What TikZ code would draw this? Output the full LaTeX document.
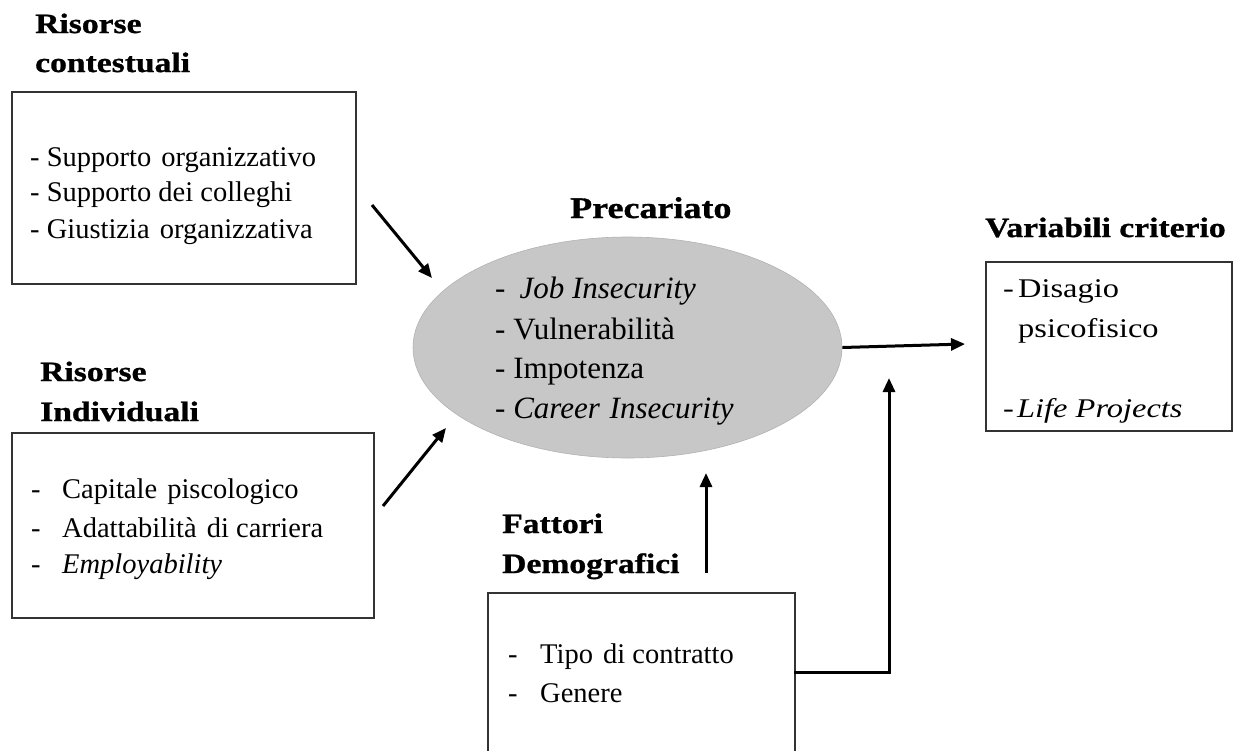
\documentclass[tikz,border=0pt]{standalone}
\usepackage{fontspec}
\setmainfont{Liberation Serif}
\newfontfamily\headfont[FakeStretch=1.2,FakeBold=1]{Liberation Serif}
\newfontfamily\widefont[FakeStretch=1.2]{Liberation Serif}
\usetikzlibrary{arrows.meta,shapes.geometric}

\begin{document}
\begin{tikzpicture}[x=1pt,y=-1pt,
  frame/.style={draw=black!80, line width=1.5pt, inner sep=0pt, anchor=north west},
  heading/.style={anchor=base west, inner sep=0pt, font=\headfont\bfseries\fontsize{28}{34}\selectfont},
  item/.style={anchor=base west, inner sep=0pt, font=\fontsize{28.5}{34}\selectfont},
  wideitem/.style={anchor=base west, inner sep=0pt, font=\widefont\fontsize{27}{34}\selectfont},
  bigitem/.style={anchor=base west, inner sep=0pt, font=\fontsize{31}{37}\selectfont},
  flow/.style={line width=3pt, -{Triangle[length=14pt,width=12pt]}}]

\useasboundingbox (0,0) rectangle (1233,750);

% boxes
\node[frame, minimum width=344pt, minimum height=192pt] (ctx) at (11,91) {};
\node[frame, minimum width=362pt, minimum height=185pt] (ind) at (11,432) {};
\node[frame, minimum width=246pt, minimum height=169pt] (crit) at (985,261) {};
\begin{scope}
  \clip (0,0) rectangle (1233,750);
  \node[frame, minimum width=307pt, minimum height=200pt] (demo) at (487,592) {};
\end{scope}

% central construct
\node[ellipse, draw=black!30, line width=0.6pt, fill=black!22,
      minimum width=429pt, minimum height=221pt, inner sep=0pt] (prec) at (627.5,347.5) {};

% headings
\node[heading] (h1a) at (35,33) {Risorse};
\node[heading] (h1b) at (35,72) {contestuali};
\node[heading] (h2a) at (40,381) {Risorse};
\node[heading] (h2b) at (40,421) {Individuali};
\node[heading, font=\headfont\bfseries\fontsize{30}{36}\selectfont] (h3) at (570,218) {Precariato};
\node[heading] (h4) at (985,237) {Variabili criterio};
\node[heading] (h5a) at (502,533) {Fattori};
\node[heading] (h5b) at (502,573) {Demografici};

% contextual resources
\node[item] (c1) at (30,166) {- Supporto\hspace{3pt} organizzativo};
\node[item] (c2) at (30,201) {- Supporto dei colleghi};
\node[item] (c3) at (30,238) {- Giustizia\hspace{3pt} organizzativa};

% individual resources
\node[item] (i1) at (31,498) {\makebox[31pt][l]{-}Capitale\hspace{3pt} piscologico};
\node[item] (i2) at (31,537) {\makebox[31pt][l]{-}Adattabilità\hspace{3pt} di carriera};
\node[item] (i3) at (31,573) {\makebox[31pt][l]{-}\textit{Employability}};

% precariousness dimensions
\node[bigitem] (p1) at (495,298) {-\hspace{14pt}\textit{Job Insecurity}};
\node[bigitem] (p2) at (495,339) {- Vulnerabilità};
\node[bigitem] (p3) at (495,378) {- Impotenza};
\node[bigitem] (p4) at (495,418) {- \textit{Career\hspace{2pt} Insecurity}};

% outcomes
\node[wideitem] (o1) at (1003,297) {\makebox[15pt][l]{-}Disagio};
\node[wideitem] (o2) at (1018,337) {psicofisico};
\node[wideitem] (o3) at (1003,417) {\makebox[14pt][l]{-}\textit{Life Projects}};

% demographic factors
\node[item] (d1) at (508,663) {\makebox[32pt][l]{-}Tipo\hspace{3pt} di contratto};
\node[item] (d2) at (508,702) {\makebox[32pt][l]{-}Genere};

% connectors
\coordinate (a1s) at (372,205);
\coordinate (a1e) at (432,278);
\coordinate (a2s) at (383,506);
\coordinate (a2e) at (446,428);
\coordinate (a3e) at (965,344);
\coordinate (a4s) at (706,573);
\coordinate (a4e) at (706,473);
\coordinate (a5s) at (794,672);
\coordinate (a5e) at (889,378);

\draw[flow] (a1s) -- (a1e);
\draw[flow] (a2s) -- (a2e);
\draw[flow] (prec.east) -- (a3e);
\draw[flow] (a4s) -- (a4e);
\draw[flow] (a5s) -| (a5e);
\end{tikzpicture}
\end{document}
